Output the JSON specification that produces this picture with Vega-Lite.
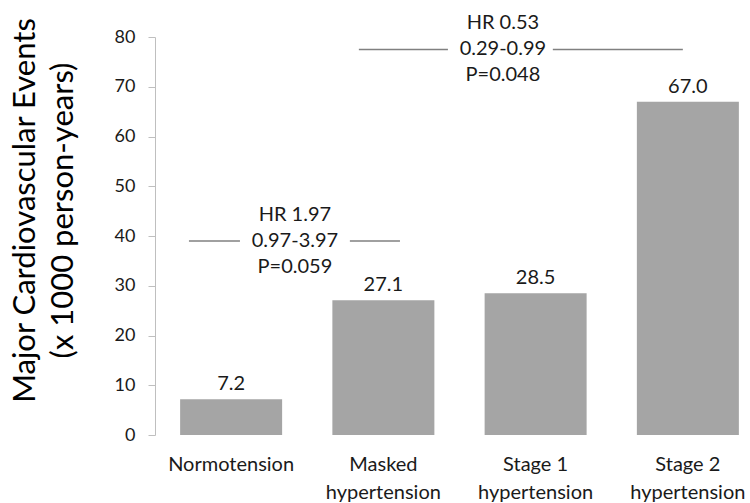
{
  "$schema": "https://vega.github.io/schema/vega-lite/v6.json",
  "width": 595,
  "height": 398,
  "autosize": {"type": "none"},
  "padding": {"left": 155, "top": 37, "right": 0, "bottom": 68},
  "config": {
    "view": {"stroke": null},
    "font": "Lato",
    "axis": {"grid": false}
  },
  "layer": [
    {
      "data": {
        "values": [
          {"group": "Normotension", "rate": 7.2},
          {"group": "Masked hypertension", "rate": 27.1},
          {"group": "Stage 1 hypertension", "rate": 28.5},
          {"group": "Stage 2 hypertension", "rate": 67.0}
        ]
      },
      "encoding": {
        "x": {
          "field": "group",
          "type": "nominal",
          "sort": null,
          "scale": {"range": [0, 609], "paddingInner": 0.33, "paddingOuter": 0.165},
          "axis": {
            "title": null,
            "labelAngle": 0,
            "domain": false,
            "ticks": false,
            "labelPadding": 19,
            "labelFontSize": 20,
            "labelColor": "#1a1a1a",
            "labelLineHeight": 28,
            "labelExpr": "split(replace(datum.value, ' hypertension', '|hypertension'), '|')"
          }
        },
        "y": {
          "field": "rate",
          "type": "quantitative",
          "scale": {"domain": [0, 80]},
          "axis": {
            "values": [0, 10, 20, 30, 40, 50, 60, 70, 80],
            "title": ["Major Cardiovascular Events", "(x 1000 person-years)"],
            "titleFontSize": 31,
            "titleFontWeight": "normal",
            "titleColor": "#000000",
            "titleLineHeight": 38,
            "titleAngle": -90,
            "titleBaseline": "top",
            "titleAlign": "center",
            "titleX": -145,
            "titleY": 173,
            "labelFontSize": 18,
            "labelColor": "#1a1a1a",
            "labelPadding": 13,
            "tickSize": 7,
            "tickColor": "#bfbfbf",
            "domainColor": "#bfbfbf"
          }
        }
      },
      "layer": [
        {"mark": {"type": "bar", "color": "#a5a5a5"}},
        {
          "mark": {"type": "text", "baseline": "alphabetic", "dy": -9, "fontSize": 20, "color": "#1a1a1a"},
          "encoding": {"text": {"field": "rate", "type": "quantitative", "format": ".1f"}}
        }
      ]
    },
    {
      "data": {
        "values": [
          {"start": 0.223, "end": 0.558, "level": 39.0},
          {"start": 1.28, "end": 1.609, "level": 39.0},
          {"start": 1.339, "end": 1.924, "level": 77.5},
          {"start": 2.613, "end": 3.467, "level": 77.5}
        ]
      },
      "mark": {"type": "rule", "color": "#808080", "strokeWidth": 1.4},
      "encoding": {
        "x": {"field": "start", "type": "quantitative", "scale": {"domain": [0, 4], "range": [0, 609]}, "axis": null},
        "x2": {"field": "end"},
        "y": {"field": "level", "type": "quantitative"}
      }
    },
    {
      "data": {
        "values": [
          {"pos": 0.919, "level": 39.0, "note": "HR 1.97|0.97-3.97|P=0.059"},
          {"pos": 2.285, "level": 77.5, "note": "HR 0.53|0.29-0.99|P=0.048"}
        ]
      },
      "mark": {"type": "text", "lineBreak": "|", "lineHeight": 26, "baseline": "middle", "dy": -26, "fontSize": 20, "color": "#1a1a1a"},
      "encoding": {
        "x": {"field": "pos", "type": "quantitative", "scale": {"domain": [0, 4], "range": [0, 609]}, "axis": null},
        "y": {"field": "level", "type": "quantitative"},
        "text": {"field": "note"}
      }
    }
  ],
  "resolve": {"scale": {"x": "independent"}}
}
